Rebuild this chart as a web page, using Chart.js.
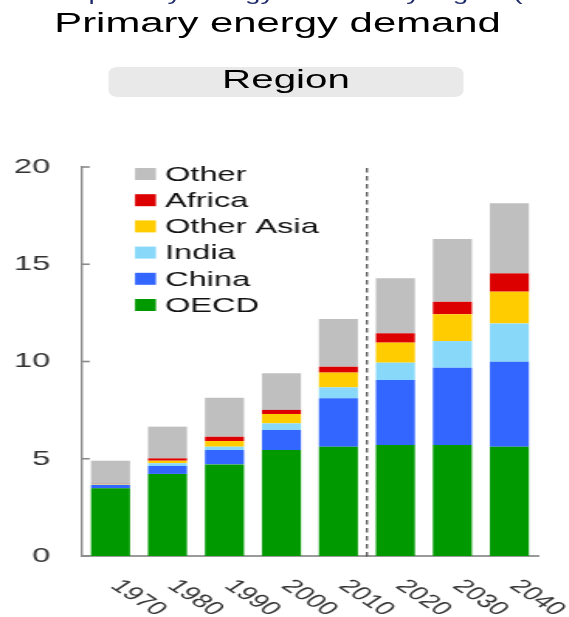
<!DOCTYPE html>
<html>
<head>
<meta charset="utf-8">
<script src="https://cdn.jsdelivr.net/npm/chart.js@4/dist/chart.umd.min.js"></script>
<style>
  html, body { margin: 0; padding: 0; background: #fff; overflow: hidden; }
  body { width: 569px; height: 617px; }
  /* the reference is stretched sideways, so the whole page is drawn narrow and widened */
  #wrap {
    position: relative; width: 367px; height: 617px; overflow: hidden;
    transform: scaleX(1.55); transform-origin: 0 0;
    font-family: "Liberation Sans", Arial, sans-serif;
  }
  #cut { position: absolute; left: 0; top: -16px; font-size: 18px; color: #1d2b6b; white-space: nowrap; }
  #titre { position: absolute; left: 35px; top: 8px; font-size: 27px; color: #000; white-space: nowrap; line-height: normal; }
  #region {
    position: absolute; left: 70px; top: 67px; width: 229px; height: 30px;
    background: #e9e9e9; border-radius: 6px; text-align: center;
    font-size: 26px; line-height: 24px; color: #000;
  }
  #boite { position: absolute; left: 0; top: 140px; width: 367px; height: 477px; }
</style>
</head>
<body>
<div id="wrap">
  <div id="cut">Global primary energy demand by region (Gtoe)</div>
  <div id="titre">Primary energy demand</div>
  <div id="region">Region</div>
  <div id="boite"><canvas id="grafico"></canvas></div>
</div>
<script>
const years = ["1970", "1980", "1990", "2000", "2010", "2020", "2030", "2040"];
const yTicks = [0, 5, 10, 15, 20];

const oecd      = [3.48, 4.22, 4.71, 5.45, 5.62, 5.71, 5.71, 5.62];
const china     = [0.17, 0.41, 0.74, 1.03, 2.49, 3.34, 3.97, 4.37];
const india     = [0.02, 0.14, 0.17, 0.34, 0.56, 0.89, 1.37, 1.97];
const otherAsia = [0.02, 0.13, 0.29, 0.48, 0.76, 1.03, 1.38, 1.63];
const africa    = [0.02, 0.12, 0.22, 0.21, 0.30, 0.48, 0.64, 0.94];
const other     = [1.19, 1.63, 2.01, 1.88, 2.46, 2.83, 3.23, 3.60];

const fuente = '"Liberation Sans", Arial, sans-serif';
Chart.defaults.font.family = fuente;

// ticks hacia adentro, linea punteada, etiquetas giradas y leyenda
const decor = {
  id: "decor",
  afterDatasetsDraw(chart) {
    const { ctx, chartArea, scales: { x, y } } = chart;
    ctx.save();

    ctx.strokeStyle = "#8a8a8a";
    ctx.lineWidth = 1.6;
    yTicks.forEach(v => {
      const py = y.getPixelForValue(v);
      ctx.beginPath();
      ctx.moveTo(chartArea.left, py);
      ctx.lineTo(chartArea.left + 5, py);
      ctx.stroke();
    });

    const dx = (x.getPixelForValue(4) + x.getPixelForValue(5)) / 2;
    ctx.setLineDash([4.5, 3.5]);
    ctx.strokeStyle = "#555";
    ctx.lineWidth = 1.3;
    ctx.beginPath();
    ctx.moveTo(dx, chartArea.top + 1);
    ctx.lineTo(dx, chartArea.bottom + 4);
    ctx.stroke();
    ctx.setLineDash([]);

    ctx.font = "19px " + fuente;
    ctx.fillStyle = "#333";
    ctx.textAlign = "left";
    ctx.textBaseline = "middle";
    years.forEach((lab, i) => {
      const px = x.getPixelForValue(i);
      ctx.save();
      ctx.translate(px + 3, chartArea.bottom + 27);
      ctx.rotate(Math.PI / 4);
      ctx.fillText(lab, 0, 0);
      ctx.restore();
    });

    const ds = [...chart.data.datasets].reverse();
    ctx.font = "21px " + fuente;
    ds.forEach((d, i) => {
      const cy = chartArea.top + 7 + i * 26.2;
      ctx.fillStyle = d.backgroundColor;
      ctx.fillRect(chartArea.left + 34.2, cy - 6, 13.5, 12);
      ctx.fillStyle = "#111";
      ctx.fillText(d.label, chartArea.left + 53.6, cy + 1);
    });

    ctx.restore();
  }
};

const ctx = document.getElementById("grafico").getContext("2d");
new Chart(ctx, {
  type: "bar",
  data: {
    labels: years,
    datasets: [
      { label: "OECD", data: oecd, backgroundColor: "#009900" },
      { label: "China", data: china, backgroundColor: "#3366ff" },
      { label: "India", data: india, backgroundColor: "#88d8fa" },
      { label: "Other Asia", data: otherAsia, backgroundColor: "#ffcc00" },
      { label: "Africa", data: africa, backgroundColor: "#dd0000" },
      { label: "Other", data: other, backgroundColor: "#bfbfbf" }
    ]
  },
  options: {
    responsive: true,
    maintainAspectRatio: false,
    animation: false,
    layout: { padding: { top: 27, right: 20, left: 0, bottom: 0 } },
    datasets: { bar: { barPercentage: 0.685, categoryPercentage: 1 } },
    plugins: { legend: { display: false }, tooltip: { enabled: false } },
    scales: {
      x: {
        stacked: true,
        grid: { display: false },
        border: { color: "#9a9a9a", width: 2 },
        ticks: { display: false },
        afterFit(s) { s.height = 61; }
      },
      y: {
        stacked: true,
        min: 0,
        max: 20,
        grid: { display: false, drawTicks: false },
        border: { color: "#8a8a8a", width: 1.4 },
        ticks: { stepSize: 5, padding: 20.5, color: "#333", font: { size: 21 } },
        afterFit(s) {
          s.width = 52.9;
          // el padding de las etiquetas no debe empujar el area hacia abajo
          s.paddingTop = 0;
          s.paddingBottom = 0;
        }
      }
    }
  },
  plugins: [decor]
});
</script>
</body>
</html>
